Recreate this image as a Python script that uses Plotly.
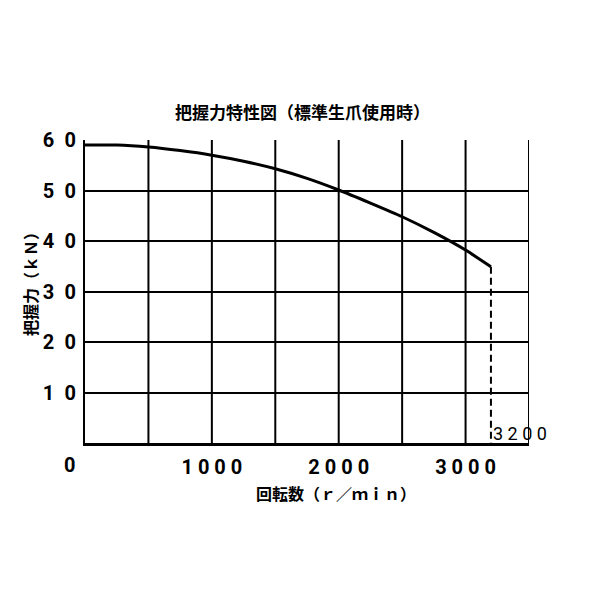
"""Grip force vs. rotation speed chart (standard soft jaws)."""

import plotly.graph_objects as go

# curve
speed = [0, 250, 500, 750, 1000, 1250, 1500, 1750, 2000, 2250, 2500, 2750, 3000, 3200]
grip_force = [59.0, 59.0, 58.6, 57.9, 57.0, 55.8, 54.3, 52.4, 50.1, 47.5, 44.8, 41.7, 38.2, 34.9]

max_speed = 3200
max_speed_force = 34.9

x_tick_vals = [1000, 2000, 3000]
x_tick_text = ["1000", "2000", "3000"]
y_tick_vals = [10, 20, 30, 40, 50, 60]
y_tick_text = ["10", "20", "30", "40", "50", "60"]

TITLE = "把握力特性図（標準生爪使用時）"
X_TITLE = "回転数（ｒ／ｍｉｎ）"
Y_TITLE = "把握力（ｋＮ）"

NUM_FONT = "Roboto, Liberation Sans, sans-serif"
JP_FONT = "Noto Sans CJK JP, sans-serif"

# page is drawn with an 8px body margin, plot box wanted at 85..529 x 140..443
L, T, PW, PH = 77, 132, 444, 303


def spaced(s, sep=" "):
    return sep.join(s)


fig = go.Figure()

fig.add_trace(go.Scatter(
    x=speed, y=grip_force, mode="lines",
    line=dict(color="black", width=3, shape="spline", smoothing=0.5),
    hoverinfo="skip", showlegend=False,
))

# dashed drop line at max speed
fig.add_trace(go.Scatter(
    x=[max_speed, max_speed], y=[max_speed_force, 0], mode="lines",
    line=dict(color="black", width=2, dash="7px,4px"),
    hoverinfo="skip", showlegend=False,
))

fig.update_layout(
    width=600, height=600,
    paper_bgcolor="white", plot_bgcolor="white",
    margin=dict(l=L, r=600 - L - PW, t=T, b=600 - T - PH),
    font=dict(family=NUM_FONT, color="black"),
    xaxis=dict(
        range=[0, 3500], showgrid=False,
        showline=True, linecolor="black", linewidth=3, mirror=False,
        zeroline=False, ticks="", automargin=False,
        tickmode="array", tickvals=x_tick_vals,
        ticktext=[spaced(t) for t in x_tick_text],
        tickfont=dict(size=20, family=NUM_FONT, weight="bold"),
        ticklabelstandoff=4,
    ),
    yaxis=dict(
        range=[0, 60], showgrid=True, gridcolor="black", gridwidth=2,
        showline=True, linecolor="black", linewidth=2,
        zeroline=False, ticks="", automargin=False,
        tickmode="array", tickvals=y_tick_vals,
        ticktext=[spaced(t, "\u2002") for t in y_tick_text],
        tickfont=dict(size=20, family=NUM_FONT, weight="bold"),
        ticklabelstandoff=3,
    ),
    showlegend=False,
)

# x grid lines every 500 (tick labels only at thousands)
for xv in range(500, 3501, 500):
    fig.add_shape(type="line", x0=xv, x1=xv, y0=0, y1=60,
                  line=dict(color="black", width=2), layer="below")

annotations = [
    dict(text=TITLE, x=302, y=111,
         font=dict(family=JP_FONT, size=17, weight="bold")),
    dict(text=X_TITLE, x=336, y=493,
         font=dict(family=JP_FONT, size=16, weight="bold")),
    dict(text=Y_TITLE, x=30, y=280, textangle=-90,
         font=dict(family=JP_FONT, size=16, weight="bold")),
    dict(text="0", x=69, y=465,
         font=dict(family=NUM_FONT, size=20, weight="bold")),
    dict(text=spaced(str(max_speed)), x=520, y=433,
         font=dict(family=NUM_FONT, size=18)),
]
for a in annotations:
    # positions above are page pixels; convert to paper fractions
    a.update(xref="paper", yref="paper", showarrow=False,
             xanchor="center", yanchor="middle",
             x=(a["x"] - 8 - L) / PW, y=1 - (a["y"] - 8 - T) / PH)
fig.update_layout(annotations=annotations)

fig.write_html("out.html")
